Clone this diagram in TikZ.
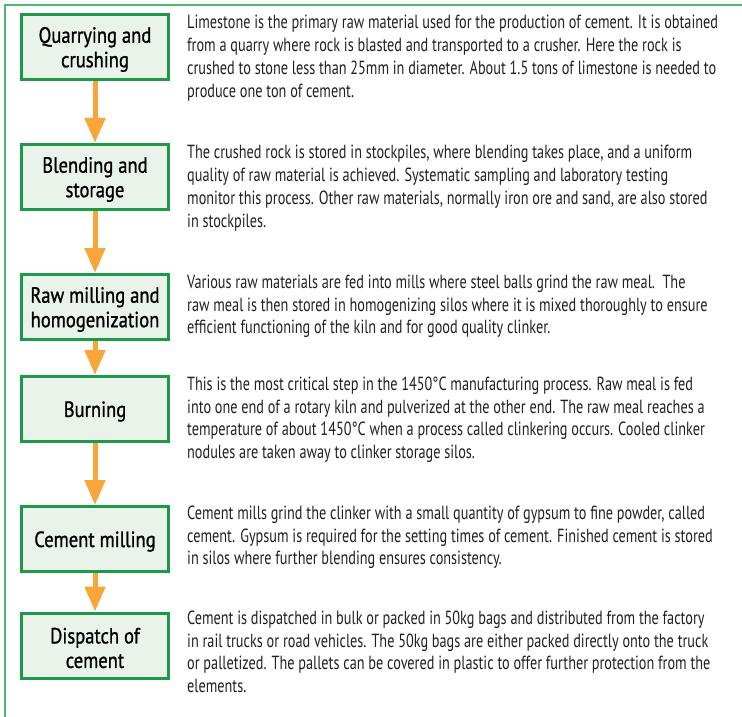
\documentclass[tikz,border=0pt]{standalone}
\usepackage{fontspec}
\setmainfont{PT Sans}[FakeStretch=0.75]
\newfontfamily\boxfont{PT Sans}[FakeStretch=0.845,FakeBold=1]
\usetikzlibrary{arrows.meta}
\definecolor{frameG}{HTML}{4DB870}
\definecolor{boxG}{HTML}{1C9A48}
\definecolor{boxF}{HTML}{E9F3EA}
\definecolor{arrO}{HTML}{F8A63A}
\definecolor{txt}{HTML}{231F20}
\begin{document}
\begin{tikzpicture}[x=1bp,y=-1bp,
  stepbox/.style={draw=boxG,line width=3bp,fill=boxF,minimum width=147bp,minimum height=65bp,
    inner sep=0pt},
  steptext/.style={inner sep=0pt,align=center,yshift=-2.5bp,
    font=\boxfont\fontsize{22bp}{24.5bp}\selectfont,text=black},
  desc/.style={anchor=north west,yshift=15.96bp,inner sep=0pt,align=left,text=txt,
    font=\fontsize{19bp}{22.8bp}\selectfont},
  flow/.style={draw=arrO,line width=5bp,-{Triangle[width=20bp,length=25bp]},arrO}]
\useasboundingbox (0,0) rectangle (742,717);
\draw[frameG,line width=2bp] (5,717) -- (5,5) -- (742,5);
\node[stepbox] (b1) at (95,47) {};
\node[stepbox] (b2) at (95,177) {};
\node[stepbox] (b3) at (95,307) {};
\node[stepbox] (b4) at (95,409) {};
\node[stepbox] (b5) at (95,539) {};
\node[stepbox] (b6) at (95,645.5) {};
\node[steptext] (n1) at (b1.center) {Quarrying and\\crushing};
\node[steptext] (n2) at (b2.center) {Blending and\\storage};
\node[steptext] (n3) at (b3.center) {Raw milling and\\homogenization};
\node[steptext] (n4) at (b4.center) {Burning};
\node[steptext] (n5) at (b5.center) {Cement milling};
\node[steptext] (n6) at (b6.center) {Dispatch of\\cement};
\draw[flow] (b1.south) -- (b2.north);
\draw[flow] (b2.south) -- (b3.north);
\draw[flow] (b3.south) -- (b4.north);
\draw[flow] (b4.south) -- (b5.north);
\draw[flow] (b5.south) -- (b6.north);
\node[desc] (t1) at (187,28.5) {\strut Limestone is the primary raw material used for the production of cement. It is obtained\\
from a quarry where rock is blasted and transported to a crusher. Here the rock is\\
crushed to stone less than 25mm in diameter. About 1.5 tons of limestone is needed to\\
produce one ton of cement.};
\node[desc] (t2) at (187,158.5) {\strut The crushed rock is stored in stockpiles, where blending takes place, and a uniform\\
quality of raw material is achieved. Systematic sampling and laboratory testing\\
monitor this process. Other raw materials, normally iron ore and sand, are also stored\\
in stockpiles.};
\node[desc] (t3) at (187,288) {\strut Various raw materials are fed into mills where steel balls grind the raw meal.\ \ The\\
raw meal is then stored in homogenizing silos where it is mixed thoroughly to ensure\\
efficient functioning of the kiln and for good quality clinker.};
\node[desc] (t4) at (187,390) {\strut This is the most critical step in the 1450°C manufacturing process. Raw meal is fed\\
into one end of a rotary kiln and pulverized at the other end. The raw meal reaches a\\
temperature of about 1450°C when a process called clinkering occurs. Cooled clinker\\
nodules are taken away to clinker storage silos.};
\node[desc] (t5) at (187,519) {\strut Cement mills grind the clinker with a small quantity of gypsum to fine powder, called\\
cement. Gypsum is required for the setting times of cement. Finished cement is stored\\
in silos where further blending ensures consistency.};
\node[desc] (t6) at (187,624) {\strut Cement is dispatched in bulk or packed in 50kg bags and distributed from the factory\\
in rail trucks or road vehicles. The 50kg bags are either packed directly onto the truck\\
or palletized. The pallets can be covered in plastic to offer further protection from the\\
elements.};
\end{tikzpicture}
\end{document}
